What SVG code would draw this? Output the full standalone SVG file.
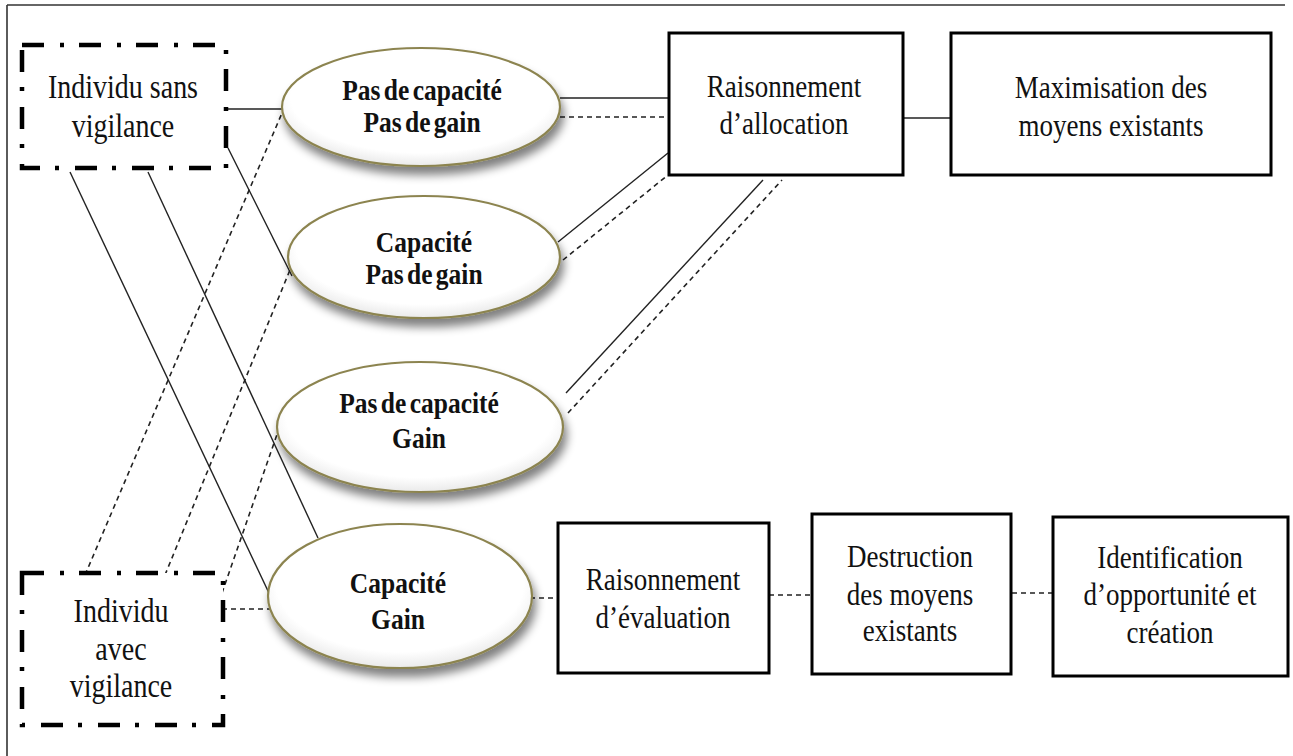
<svg xmlns="http://www.w3.org/2000/svg" width="1293" height="756" viewBox="0 0 1293 756">
  <defs>
    <radialGradient id="ellFill" cx="50%" cy="42%" r="60%">
      <stop offset="0%" stop-color="#ffffff"/>
      <stop offset="78%" stop-color="#ffffff"/>
      <stop offset="100%" stop-color="#e6e6e6"/>
    </radialGradient>
    <filter id="softShadow" x="-20%" y="-20%" width="140%" height="160%">
      <feGaussianBlur in="SourceAlpha" stdDeviation="5"/>
      <feOffset dx="3" dy="8" result="off"/>
      <feComponentTransfer><feFuncA type="linear" slope="0.5"/></feComponentTransfer>
      <feMerge><feMergeNode/><feMergeNode in="SourceGraphic"/></feMerge>
    </filter>
  </defs>
  <style>
    .frame { stroke: #333; stroke-width: 1.6; fill: none; }
    .box { fill: #fff; stroke: #000; stroke-width: 3; }
    .dashbox { fill: #fff; stroke: #000; stroke-width: 4.5; stroke-dasharray: 22 16 4 15; }
    .ell { fill: url(#ellFill); stroke: #8c8450; stroke-width: 2.2; filter: url(#softShadow); }
    .txt { font-family: "Liberation Serif", "DejaVu Serif", serif; font-size: 27px; fill: #111; text-anchor: middle; }
    .big { font-size: 28px; }
    .btxt { font-family: "Liberation Serif", "DejaVu Serif", serif; font-size: 25.5px; font-weight: bold; fill: #111; text-anchor: middle; word-spacing: -3px; }
    .solid { stroke: #222; stroke-width: 1.4; fill: none; }
    .dash { stroke: #222; stroke-width: 1.6; fill: none; stroke-dasharray: 5 4; }
  </style>

  <!-- outer frame (top and left edges) -->
  <g id="frame">
    <line class="frame" x1="7" y1="5" x2="1285" y2="5"/>
    <line class="frame" x1="7" y1="5" x2="7" y2="756"/>
  </g>

  <!-- connectors -->
  <g id="connectors">
    <line class="solid" x1="226" y1="109" x2="283" y2="109"/>
    <line class="solid" x1="560" y1="98" x2="669" y2="98"/>
    <line class="dash" x1="560" y1="117" x2="669" y2="117"/>
    <line class="solid" x1="558" y1="242" x2="668" y2="153"/>
    <line class="dash" x1="563" y1="260" x2="668" y2="175"/>
    <line class="solid" x1="566" y1="393" x2="763" y2="180"/>
    <line class="dash" x1="568" y1="413" x2="782" y2="180"/>
    <line class="solid" x1="903" y1="118" x2="951" y2="118"/>
    <line class="solid" x1="70" y1="172" x2="277" y2="610"/>
    <line class="solid" x1="148" y1="172" x2="318" y2="538"/>
    <line class="solid" x1="228" y1="148" x2="292" y2="276"/>
    <line class="dash" x1="85" y1="575" x2="282" y2="113"/>
    <line class="dash" x1="165" y1="575" x2="292" y2="265"/>
    <line class="dash" x1="222" y1="593" x2="282" y2="420"/>
    <line class="dash" x1="222" y1="609" x2="274" y2="609"/>
    <line class="dash" x1="530" y1="598" x2="558" y2="598"/>
    <line class="dash" x1="769" y1="595" x2="812" y2="595"/>
    <line class="dash" x1="1012" y1="593" x2="1053" y2="593"/>
  </g>

  <g id="individu-sans-vigilance">
    <rect class="dashbox" x="22" y="45" width="204" height="123"/>
    <text class="txt big" transform="translate(123,98) scale(1,1.18)">Individu sans</text>
    <text class="txt big" transform="translate(123,137) scale(1,1.18)">vigilance</text>
  </g>

  <g id="individu-avec-vigilance">
    <rect class="dashbox" x="22" y="573" width="201" height="152"/>
    <text class="txt big" transform="translate(121,622) scale(1,1.18)">Individu</text>
    <text class="txt big" transform="translate(121,660) scale(1,1.18)">avec</text>
    <text class="txt big" transform="translate(121,697) scale(1,1.18)">vigilance</text>
  </g>

  <g id="pas-capacite-pas-gain">
    <ellipse class="ell" cx="421" cy="107" rx="139" ry="59"/>
    <text class="btxt" transform="translate(422,100) scale(1,1.15)">Pas de capacité</text>
    <text class="btxt" transform="translate(422,132) scale(1,1.15)">Pas de gain</text>
  </g>

  <g id="capacite-pas-gain">
    <ellipse class="ell" cx="424" cy="257" rx="136" ry="61"/>
    <text class="btxt" transform="translate(424,252) scale(1,1.15)">Capacité</text>
    <text class="btxt" transform="translate(424,284) scale(1,1.15)">Pas de gain</text>
  </g>

  <g id="pas-capacite-gain">
    <ellipse class="ell" cx="420" cy="427" rx="143" ry="65"/>
    <text class="btxt" transform="translate(419,413) scale(1,1.15)">Pas de capacité</text>
    <text class="btxt" transform="translate(419,448) scale(1,1.15)">Gain</text>
  </g>

  <g id="capacite-gain">
    <ellipse class="ell" cx="400" cy="596" rx="132" ry="72"/>
    <text class="btxt" transform="translate(398,593) scale(1,1.15)">Capacité</text>
    <text class="btxt" transform="translate(398,629) scale(1,1.15)">Gain</text>
  </g>

  <g id="raisonnement-allocation">
    <rect class="box" x="669" y="33" width="234" height="142"/>
    <text class="txt" transform="translate(784,97) scale(1,1.18)">Raisonnement</text>
    <text class="txt" transform="translate(784,134) scale(1,1.18)">d’allocation</text>
  </g>

  <g id="maximisation">
    <rect class="box" x="951" y="33" width="320" height="142"/>
    <text class="txt" transform="translate(1111,98) scale(1,1.18)">Maximisation des</text>
    <text class="txt" transform="translate(1111,136) scale(1,1.18)">moyens existants</text>
  </g>

  <g id="raisonnement-evaluation">
    <rect class="box" x="558" y="523" width="211" height="150"/>
    <text class="txt" transform="translate(663,590) scale(1,1.18)">Raisonnement</text>
    <text class="txt" transform="translate(663,628) scale(1,1.18)">d’évaluation</text>
  </g>

  <g id="destruction">
    <rect class="box" x="812" y="514" width="199" height="160"/>
    <text class="txt" transform="translate(910,567) scale(1,1.18)">Destruction</text>
    <text class="txt" transform="translate(910,605) scale(1,1.18)">des moyens</text>
    <text class="txt" transform="translate(910,641) scale(1,1.18)">existants</text>
  </g>

  <g id="identification">
    <rect class="box" x="1053" y="517" width="235" height="159"/>
    <text class="txt" transform="translate(1170,568) scale(1,1.18)">Identification</text>
    <text class="txt" transform="translate(1170,605) scale(1,1.18)">d’opportunité et</text>
    <text class="txt" transform="translate(1170,643) scale(1,1.18)">création</text>
  </g>
</svg>
